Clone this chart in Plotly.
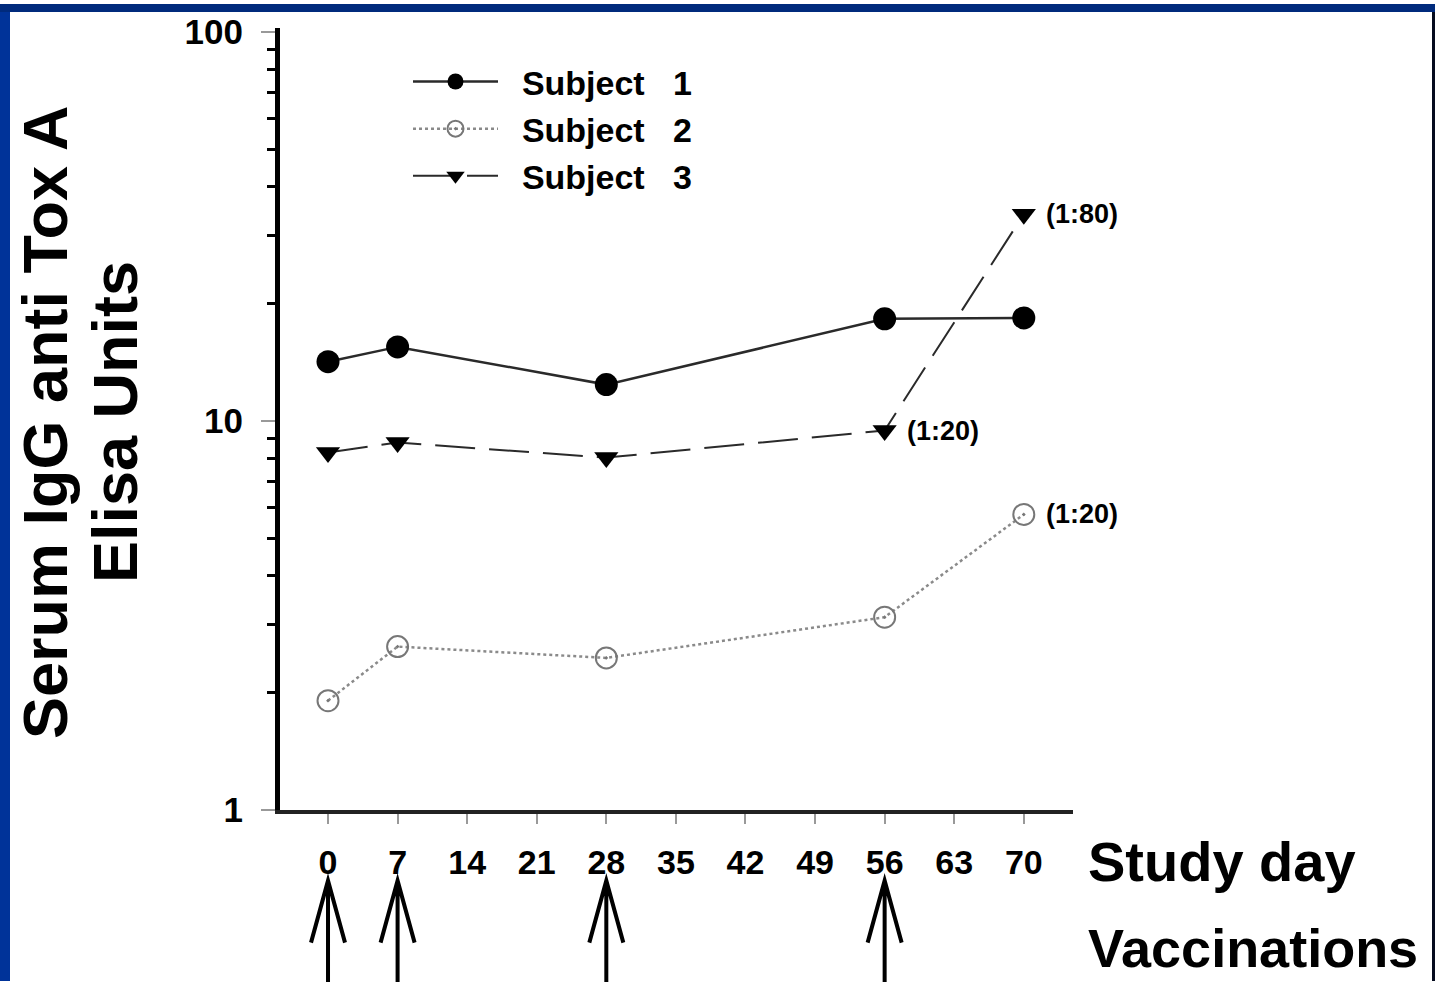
import math
import plotly.graph_objects as go

# ---------------- data ----------------
days = [0, 7, 28, 56, 70]
subject1 = [14.2, 15.5, 12.4, 18.3, 18.4]
subject2 = [1.91, 2.63, 2.46, 3.13, 5.75]
subject3 = [8.3, 8.8, 8.05, 9.45, 34.0]
series_names = ["\u00a0\u00a0Subject\u00a0\u00a0 1", "\u00a0\u00a0Subject\u00a0\u00a0 2",
                "\u00a0\u00a0Subject\u00a0\u00a0 3"]

x_ticks = [0, 7, 14, 21, 28, 35, 42, 49, 56, 63, 70]
x_tick_labels = [str(v) for v in x_ticks]
y_major = [1, 10, 100]
y_major_labels = ["1", "10", "100"]
y_minor = [2, 3, 4, 5, 6, 7, 8, 9, 20, 30, 40, 50, 60, 70, 80, 90]

vaccination_days = [0, 7, 28, 56]
# (series index, day, label)
titer_notes = [(2, 70, "(1:80)"), (2, 56, "(1:20)"), (1, 70, "(1:20)")]

y_title_lines = ["Serum IgG anti Tox A", "Elisa Units"]
x_title = "Study day"
arrow_title = "Vaccinations"

# ---------------- layout geometry ----------------
W, H = 1435, 982
ML, MR, MT, MB = 280, 362, 24, 172
PW, PH = W - ML - MR, H - MT - MB

def px_x(p):  # pixel -> paper x
    return (p - ML) / PW

def px_y(p):  # pixel -> paper y
    return (H - MB - p) / PH

FONT = "Liberation Sans, Arial, Helvetica, sans-serif"

values = [subject1, subject2, subject3]
styles = [
    dict(line=dict(color="#2a2a2a", width=2.5, dash="solid"),
         marker=dict(symbol="circle", size=23, color="black")),
    dict(line=dict(color="#8a8a8a", width=2.5, dash="dot"),
         marker=dict(symbol="circle-open-dot", size=21, color="#777777",
                     line=dict(width=2, color="#777777"))),
    dict(line=dict(color="#2a2a2a", width=2, dash="40px,14px"),
         marker=dict(symbol="triangle-down", size=21, color="black")),
]

fig = go.Figure()
for name, vals, st in zip(series_names, values, styles):
    fig.add_trace(go.Scatter(x=days, y=vals, name=name, mode="lines+markers",
                             line=st["line"], marker=st["marker"]))

# titer annotations
annotations = []
for idx, day, label in titer_notes:
    yv = values[idx][days.index(day)]
    annotations.append(dict(x=day, y=math.log10(yv), xref="x", yref="y",
                            text=label, showarrow=False, xanchor="left",
                            yanchor="middle", xshift=20,
                            font=dict(family=FONT, size=27, color="black", weight="bold")))

# y-axis title (two lines)
annotations.append(dict(x=px_x(45), y=px_y(420), xref="paper", yref="paper",
                        text=y_title_lines[0], textangle=-90, showarrow=False,
                        xanchor="center", yanchor="middle",
                        font=dict(family=FONT, size=63, color="black", weight="bold")))
annotations.append(dict(x=px_x(115), y=px_y(420), xref="paper", yref="paper",
                        text=y_title_lines[1], textangle=-90, showarrow=False,
                        xanchor="center", yanchor="middle",
                        font=dict(family=FONT, size=63, color="black", weight="bold")))
annotations.append(dict(x=px_x(1086), y=px_y(862), xref="paper", yref="paper",
                        text=x_title, showarrow=False, xanchor="left", yanchor="middle",
                        font=dict(family=FONT, size=56, color="black", weight="bold")))
annotations.append(dict(x=px_x(1086), y=px_y(981), xref="paper", yref="paper",
                        text=arrow_title, showarrow=False, xanchor="left", yanchor="bottom",
                        font=dict(family=FONT, size=54, color="black", weight="bold")))

shapes = []
# vaccination arrows
for d in vaccination_days:
    shapes.append(dict(type="path", xref="x", yref="paper",
                       xsizemode="pixel", ysizemode="pixel",
                       xanchor=d, yanchor=px_y(881),
                       path="M-17,-62L0,0L17,-62M0,0L0,-110",
                       line=dict(color="black", width=4)))
# blue frame
shapes.append(dict(type="rect", xref="paper", yref="paper",
                   x0=px_x(0), x1=px_x(10), y0=px_y(H), y1=px_y(0),
                   fillcolor="#003399", line=dict(width=0), layer="above"))
shapes.append(dict(type="rect", xref="paper", yref="paper",
                   x0=px_x(0), x1=px_x(W), y0=px_y(8), y1=px_y(0),
                   fillcolor="#002a7c", line=dict(width=0), layer="above"))
shapes.append(dict(type="rect", xref="paper", yref="paper",
                   x0=px_x(1432), x1=px_x(W), y0=px_y(H), y1=px_y(8),
                   fillcolor="#050b1e", line=dict(width=0), layer="above"))

fig.update_layout(
    width=W, height=H, autosize=False,
    margin=dict(l=ML, r=MR, t=MT, b=MB, pad=0),
    paper_bgcolor="white", plot_bgcolor="white",
    font=dict(family=FONT, color="black"),
    showlegend=True,
    legend=dict(x=px_x(408), y=px_y(49), xanchor="left", yanchor="top",
                bgcolor="rgba(0,0,0,0)", borderwidth=0,
                font=dict(family=FONT, size=34, color="black", weight="bold"),
                itemwidth=85, tracegroupgap=0),
    annotations=annotations,
    shapes=shapes,
    xaxis=dict(range=[-4.83, 74.95], tickmode="array", tickvals=x_ticks, ticktext=x_tick_labels,
               ticks="outside", ticklen=10, tickwidth=2, tickcolor="#999999",
               showline=True, linewidth=4, linecolor="#222222",
               showgrid=False, zeroline=False, ticklabelstandoff=9,
               tickfont=dict(family=FONT, size=34, color="black", weight="bold")),
    yaxis=dict(type="log", range=[0, 2.01], tickmode="array", tickvals=y_major,
               ticktext=y_major_labels, ticks="outside", ticklen=14, tickwidth=2,
               tickcolor="#999999", showline=True, linewidth=5, linecolor="black",
               showgrid=False, zeroline=False, ticklabelstandoff=11,
               minor=dict(tickmode="array", tickvals=y_minor, ticks="outside",
                          ticklen=8, tickwidth=3, tickcolor="black", showgrid=False),
               tickfont=dict(family=FONT, size=35, color="black", weight="bold")),
)

fig.write_html("out.html", config={"displayModeBar": False},
               post_script="document.body.style.margin='0';document.body.style.overflow='hidden';")
